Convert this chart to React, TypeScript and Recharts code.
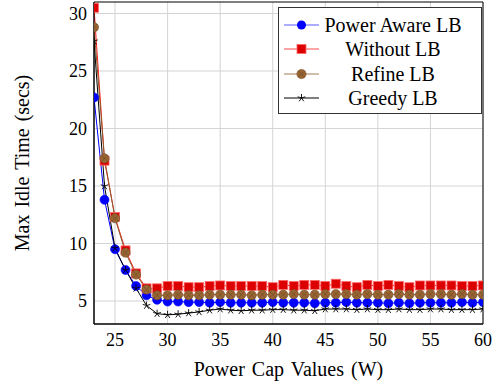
import React from 'react';
import { LineChart, Line, XAxis, YAxis, CartesianGrid, ReferenceArea, Label } from 'recharts';

const powerCaps = [23,24,25,26,27,28,29,30,31,32,33,34,35,36,37,38,39,40,41,42,43,44,45,46,47,48,49,50,51,52,53,54,55,56,57,58,59,60];
const powerAware = [22.7,13.8,9.5,7.7,6.3,5.5,5.1,4.95,4.95,4.9,4.9,4.85,4.9,4.85,4.85,4.85,4.85,4.9,4.85,4.85,4.85,4.8,4.85,4.85,4.9,4.85,4.85,4.85,4.8,4.85,4.8,4.85,4.85,4.85,4.85,4.9,4.85,4.9];
const withoutLB = [30.5,17.2,12.3,9.4,7.4,6.1,6.1,6.3,6.3,6.2,6.2,6.3,6.35,6.3,6.3,6.3,6.3,6.2,6.4,6.3,6.4,6.4,6.3,6.5,6.3,6.2,6.4,6.3,6.4,6.3,6.2,6.35,6.35,6.35,6.35,6.3,6.3,6.35];
const refineLB = [28.8,17.4,12.2,9.2,7.3,6.0,5.5,5.5,5.55,5.5,5.5,5.55,5.55,5.55,5.55,5.5,5.55,5.55,5.55,5.6,5.55,5.55,5.6,5.6,5.6,5.55,5.6,5.55,5.55,5.6,5.55,5.55,5.6,5.6,5.55,5.6,5.55,5.55];
const greedyLB = [27.6,15.0,9.6,7.7,6.1,4.6,3.9,3.8,3.85,3.95,4.05,4.2,4.3,4.2,4.15,4.2,4.2,4.25,4.25,4.2,4.2,4.15,4.3,4.3,4.3,4.25,4.3,4.25,4.25,4.3,4.25,4.25,4.3,4.3,4.25,4.25,4.25,4.3];

const xTicks = [25,30,35,40,45,50,55,60];
const yTicks = [5,10,15,20,25,30];
const seriesNames = ['Power Aware LB', 'Without LB', 'Refine LB', 'Greedy LB'];

const data = powerCaps.map((x, i) => ({
  x,
  pa: powerAware[i],
  wo: withoutLB[i],
  rf: refineLB[i],
  gr: greedyLB[i],
}));

const FONT = '"Liberation Serif", "Times New Roman", serif';

const BlueDot = (p: any) => <circle key={p.index} cx={p.cx} cy={p.cy} r={4.5} fill="#0000ff" stroke="#0000ff" strokeWidth={0.6} />;
const RedDot = (p: any) => <rect key={p.index} x={p.cx - 4.5} y={p.cy - 4.5} width={9} height={9} fill="#dd0000" stroke="#ff6a6a" strokeWidth={0.8} />;
const BrownDot = (p: any) => (
  <g key={p.index}>
    <circle cx={p.cx} cy={p.cy} r={4.6} fill="#996633" stroke="#7a4d26" strokeWidth={0.6} />
    <path d={`M${p.cx - 3.2},${p.cy - 3.2}L${p.cx + 3.2},${p.cy + 3.2}M${p.cx - 3.2},${p.cy + 3.2}L${p.cx + 3.2},${p.cy - 3.2}`} stroke="#6b4423" strokeWidth={0.6} />
  </g>
);
const starPath = (cx: number, cy: number, r: number) => {
  let d = '';
  for (let k = 0; k < 5; k++) {
    const a = -Math.PI / 2 + (k * 2 * Math.PI) / 5;
    d += `M${cx},${cy}L${cx + r * Math.cos(a)},${cy + r * Math.sin(a)}`;
  }
  return d;
};
const StarDot = (p: any) => <path key={p.index} d={starPath(p.cx, p.cy, 4)} stroke="#000" strokeWidth={0.9} fill="none" />;

const markers = [
  { line: '#5a5aff', render: (cx: number, cy: number) => <circle cx={cx} cy={cy} r={4.5} fill="#0000ff" /> },
  { line: '#ff4a4a', render: (cx: number, cy: number) => <rect x={cx - 4.5} y={cy - 4.5} width={9} height={9} fill="#dd0000" stroke="#ff6a6a" strokeWidth={0.8} /> },
  { line: '#a07a55', render: (cx: number, cy: number) => BrownDot({ cx, cy, index: 0 }) },
  { line: '#000', render: (cx: number, cy: number) => <path d={starPath(cx, cy, 4)} stroke="#000" strokeWidth={0.9} fill="none" /> },
];

const XTick = (p: any) => (
  <text x={p.x} y={p.y} dy="0.71em" textAnchor="middle" style={{ fontFamily: FONT, fontSize: 18 }} fill="#000">{p.payload.value}</text>
);
const YTick = (p: any) => (
  <text x={p.x} y={p.y} dy="0.355em" textAnchor="end" style={{ fontFamily: FONT, fontSize: 18 }} fill="#000">{p.payload.value}</text>
);

const LegendBox = () => (
  <div style={{ position: 'absolute', left: 278, top: 7, border: '1.2px solid #333', background: '#fff', width: 204, height: 107, boxSizing: 'border-box', fontFamily: FONT, fontSize: 20, color: '#000', padding: '5px 0 0 0' }}>
    {seriesNames.map((n, i) => (
      <div key={n} style={{ display: 'flex', alignItems: 'center', height: 24.3 }}>
        <svg width={40} height={16} style={{ marginLeft: 4, flex: 'none' }}>
          <line x1={1} y1={8} x2={36} y2={8} stroke={markers[i].line} strokeWidth={1} />
          {markers[i].render(18.5, 8)}
        </svg>
        <div style={{ flex: 1, textAlign: 'center', whiteSpace: 'nowrap', lineHeight: '24px', paddingRight: 18 }}>{n}</div>
      </div>
    ))}
  </div>
);

export default function App() {
  return (
    <div style={{ position: 'absolute', left: 0, top: 0, width: 496, height: 385, background: '#fff', fontFamily: FONT }}>
      <LineChart width={496} height={385} data={data} margin={{ top: 2, right: 13, bottom: 31, left: 0 }}>
        <CartesianGrid stroke="#d4d4d4" strokeWidth={1} horizontalValues={yTicks} verticalValues={xTicks} />
        <XAxis
          dataKey="x"
          type="number"
          domain={[23, 60]}
          ticks={xTicks}
          allowDataOverflow
          height={30}
          stroke="#000"
          tickLine={false}
          tickSize={0}
          tickMargin={9}
          tick={XTick}
        >
          <Label value="Power Cap Values (W)" position="insideBottom" offset={-22} style={{ fill: '#000', fontFamily: FONT, fontSize: 20, wordSpacing: 2, textAnchor: 'middle' }} />
        </XAxis>
        <YAxis
          type="number"
          domain={[3, 31]}
          ticks={yTicks}
          allowDataOverflow
          width={94}
          stroke="#000"
          tickLine={false}
          tickSize={0}
          tickMargin={7}
          tick={YTick}
        >
          <Label value="Max Idle Time (secs)" angle={-90} position="insideLeft" offset={22} style={{ fill: '#000', fontFamily: FONT, fontSize: 20, wordSpacing: 2, textAnchor: 'middle' }} />
        </YAxis>
        <ReferenceArea x1={23} x2={60} y1={3} y2={31} fill="none" stroke="#000" strokeWidth={1} ifOverflow="visible" />
        <Line dataKey="pa" name={seriesNames[0]} stroke="#0000ff" strokeWidth={1} dot={BlueDot} isAnimationActive={false} />
        <Line dataKey="wo" name={seriesNames[1]} stroke="#ff2020" strokeWidth={1} dot={RedDot} isAnimationActive={false} />
        <Line dataKey="rf" name={seriesNames[2]} stroke="#8b5a2b" strokeWidth={1} dot={BrownDot} isAnimationActive={false} />
        <Line dataKey="gr" name={seriesNames[3]} stroke="#000" strokeWidth={1} dot={StarDot} isAnimationActive={false} />
      </LineChart>
      <LegendBox />
    </div>
  );
}
